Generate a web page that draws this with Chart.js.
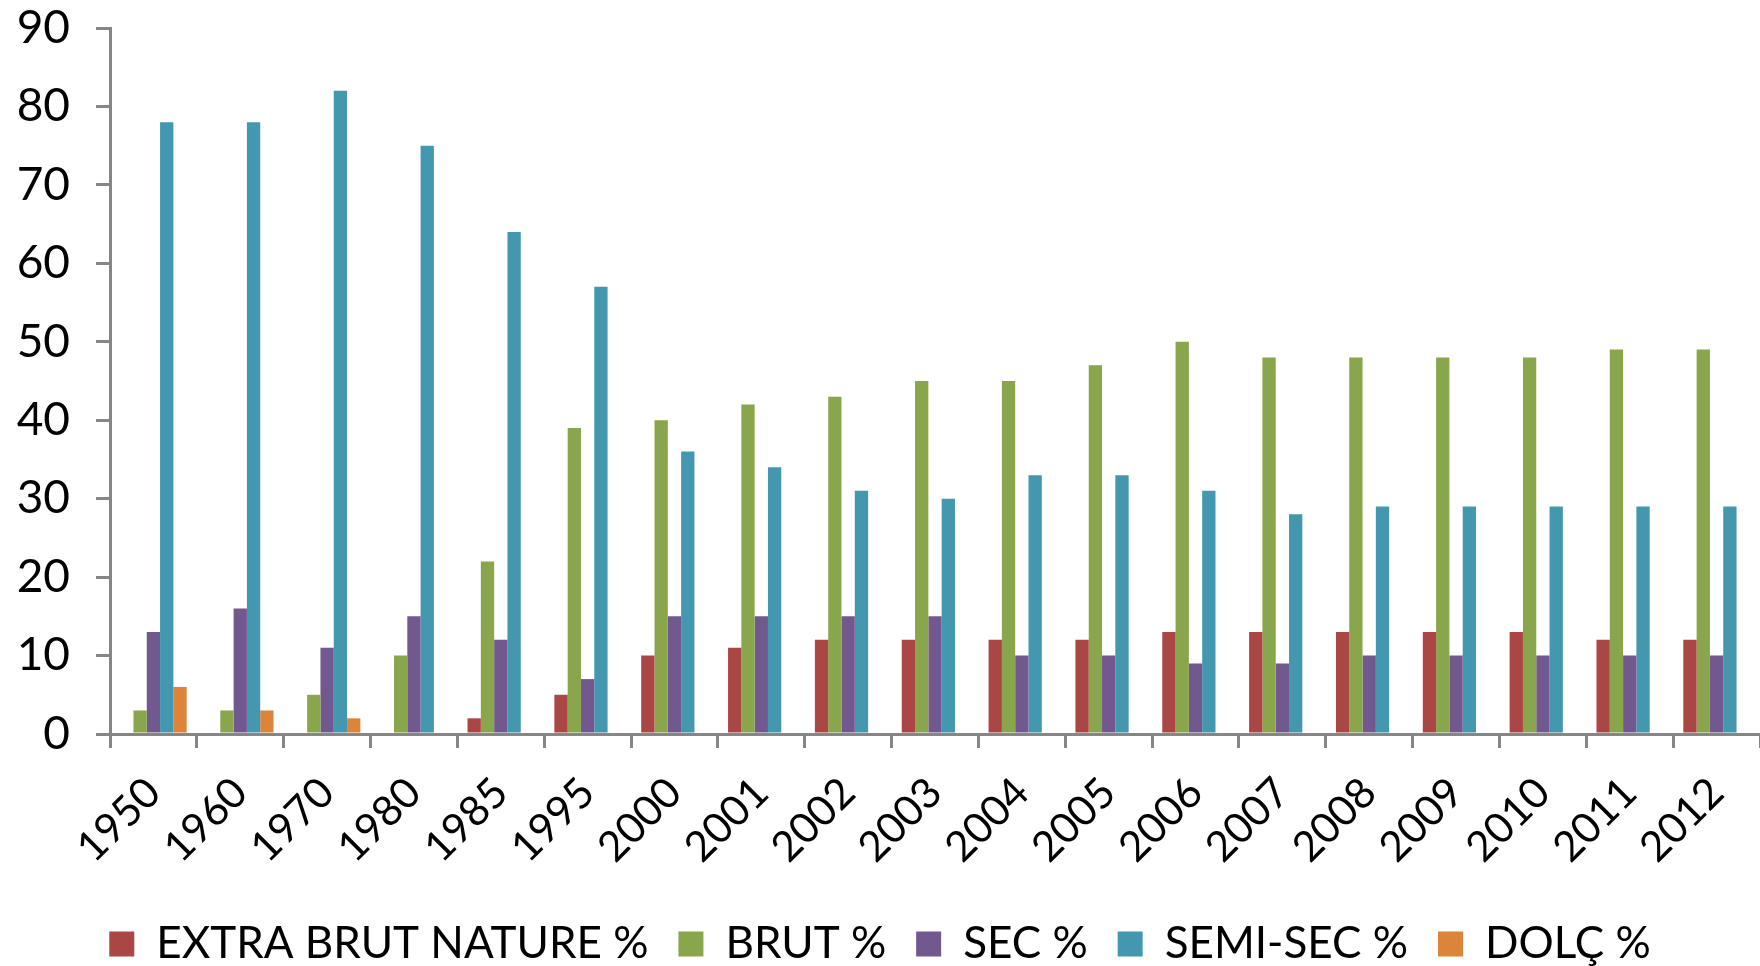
<!DOCTYPE html>
<html>
<head>
<meta charset="utf-8">
<script src="https://cdn.jsdelivr.net/npm/chart.js@4.4.1/dist/chart.umd.min.js"></script>
<style>
html,body{margin:0;padding:0;background:#fff;}
#wrap{width:1760px;height:966px;position:relative;}
</style>
</head>
<body>
<div id="wrap"><canvas id="c" width="1760" height="966"></canvas></div>
<script>
const years = ['1950','1960','1970','1980','1985','1995','2000','2001','2002','2003','2004','2005','2006','2007','2008','2009','2010','2011','2012'];
const extraBrutNature = [0,0,0,0,2,5,10,11,12,12,12,12,13,13,13,13,13,12,12];
const brut            = [3,3,5,10,22,39,40,42,43,45,45,47,50,48,48,48,48,49,49];
const sec             = [13,16,11,15,12,7,15,15,15,15,10,10,9,9,10,10,10,10,10];
const semiSec         = [78,78,82,75,64,57,36,34,31,30,33,33,31,28,29,29,29,29,29];
const dolc            = [6,3,2,0,0,0,0,0,0,0,0,0,0,0,0,0,0,0,0];
const seriesNames = ['EXTRA BRUT NATURE %','BRUT %','SEC %','SEMI-SEC %','DOLÇ %'];
const seriesColors = ['#AA4644','#8AA64D','#71598F','#4398B0','#DD843B'];
const yTicks = [0,10,20,30,40,50,60,70,80,90];

const FONT = 'Lato, "DejaVu Sans", sans-serif';
const axisColor = '#868686';
const allData = [extraBrutNature, brut, sec, semiSec, dolc];

const legendFix = {
  id: 'legendFix',
  beforeInit(chart) {
    const lg = chart.legend;
    if (!lg) return;
    const orig = lg.fit;
    lg.fit = function () { orig.call(this); this.height = 74; };
  }
};

new Chart(document.getElementById('c'), {
  type: 'bar',
  data: {
    labels: years,
    datasets: allData.map((d, i) => ({
      label: seriesNames[i],
      data: d,
      backgroundColor: seriesColors[i],
      borderWidth: 0,
      barPercentage: 1.0,
      categoryPercentage: 0.766
    }))
  },
  plugins: [legendFix],
  options: {
    responsive: false,
    animation: false,
    layout: { padding: { top: 28, right: 0, left: 0, bottom: 0 } },
    plugins: {
      tooltip: { enabled: false },
      legend: {
        position: 'bottom',
        labels: {
          color: '#000',
          font: { family: FONT, size: 44 },
          boxWidth: 25,
          boxHeight: 25,
          padding: 30
        }
      }
    },
    scales: {
      x: {
        grid: {
          display: true, drawOnChartArea: false, drawTicks: true,
          tickLength: 14, color: axisColor, lineWidth: 3, offset: true
        },
        border: { display: true, color: axisColor, width: 3 },
        ticks: {
          color: '#000', font: { family: FONT, size: 42 },
          maxRotation: 45, minRotation: 45, autoSkip: false, padding: 20
        },
        afterFit: (s) => { s.height = 158; s.paddingLeft = 0; s.paddingRight = 0; }
      },
      y: {
        min: 0, max: 90,
        afterBuildTicks: (s) => { s.ticks = yTicks.map(v => ({ value: v })); },
        grid: {
          display: true, drawOnChartArea: false, drawTicks: true,
          tickLength: 14, color: axisColor, lineWidth: 3
        },
        border: { display: true, color: axisColor, width: 3 },
        ticks: {
          color: '#000', font: { family: FONT, size: 46 }, padding: 26
        },
        afterFit: (s) => { s.width = 110; s.paddingTop = 0; s.paddingBottom = 0; }
      }
    }
  }
});
</script>
</body>
</html>
